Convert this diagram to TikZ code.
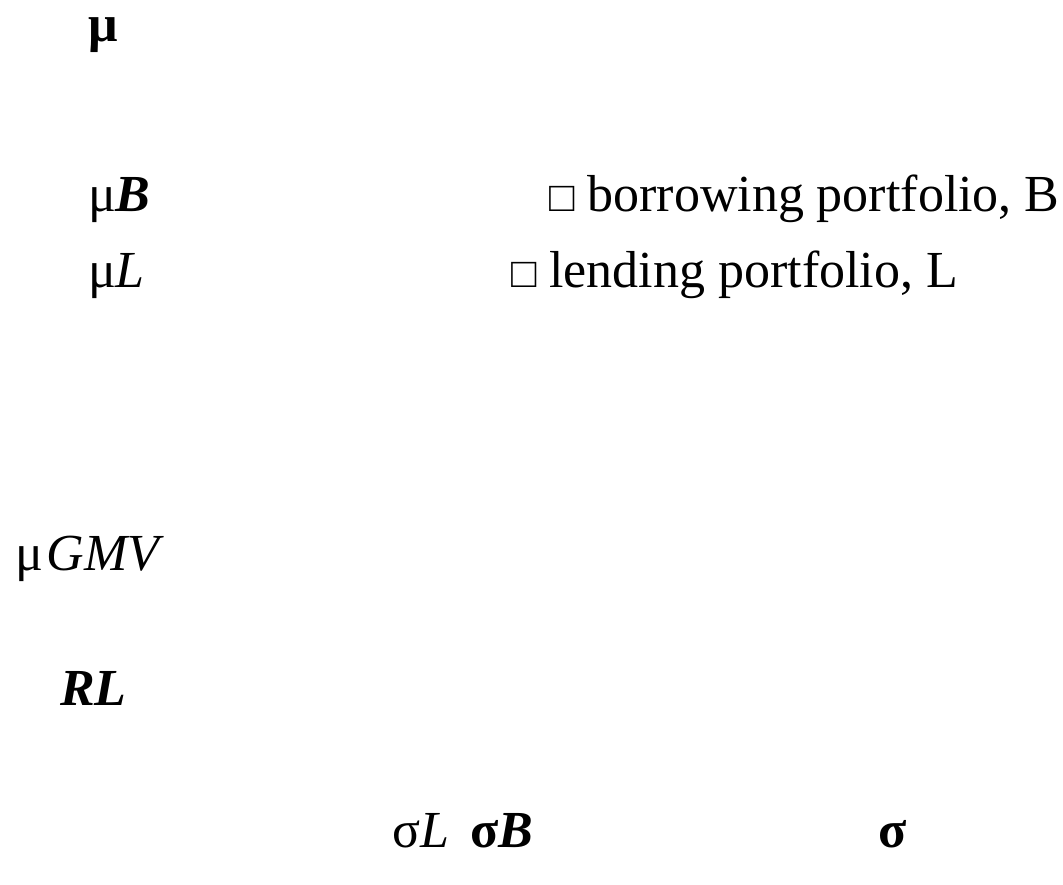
\documentclass[tikz,border=0pt]{standalone}
\usepackage{fontspec}
\setmainfont{Liberation Serif}
\newcommand{\markerbox}{{\fontsize{42}{48}\selectfont □}}
\begin{document}
\begin{tikzpicture}[x=1pt,y=-1pt,
  lbl/.style={anchor=base west,inner sep=0pt,outer sep=0pt,
    font=\fontsize{52}{62}\selectfont}]
\useasboundingbox[fill=white] (0,0) rectangle (1063,885);
% axis labels
\node[lbl] (mu)    at (88,42)   {\textbf{μ}};
\node[lbl] (sig)   at (878,847) {\textbf{σ}};
% portfolio returns on the vertical axis
\node[lbl] (muB)   at (88,212)  {μ\textbf{\textit{B}}};
\node[lbl] (muL)   at (88,288)  {μ\textit{L}};
\node[lbl] (muGMV) at (15,570)  {μ\kern4pt\textit{GMV}};
\node[lbl] (RL)    at (60,705)  {\textbf{\textit{RL}}};
% portfolio risks on the horizontal axis
\node[lbl] (sigL)  at (392,847) {σ\textit{L}};
\node[lbl] (sigB)  at (470,847) {\textbf{σ}\textbf{\textit{B}}};
% point labels
\node[lbl] (borrow) at (549,212) {\markerbox\ borrowing portfolio, B};
\node[lbl] (lend)   at (511,288) {\markerbox\ lending portfolio, L};
\end{tikzpicture}
\end{document}
